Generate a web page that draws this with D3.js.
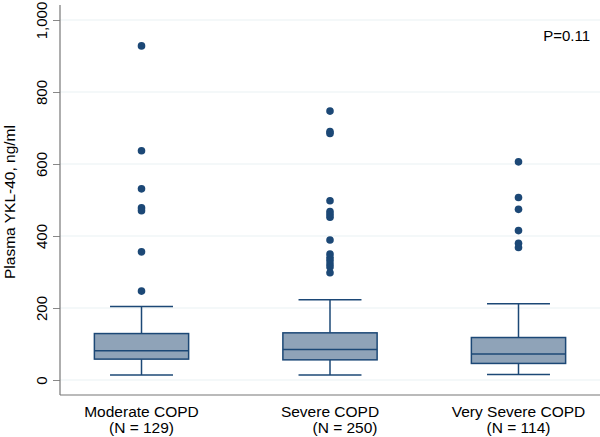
<!DOCTYPE html>
<html><head><meta charset="utf-8">
<script src="https://cdn.jsdelivr.net/npm/d3@7"></script>
<style>body{margin:0;background:#fff}text{font-family:"Liberation Sans",Arial,Helvetica,sans-serif}</style>
</head><body><svg id="c" width="600" height="437"></svg>
<script>
const categories = ["Moderate COPD", "Severe COPD", "Very Severe COPD"];
const nLabels = ["(N = 129)", "(N = 250)", "(N = 114)"];
const whiskerLow = [14, 14, 15];
const q1 = [58, 56, 46];
const median = [81, 85, 72];
const q3 = [129, 131, 118];
const whiskerHigh = [204, 223, 212];
const outliers = [
  [928, 637, 531, 478, 470, 356, 247],
  [747, 690, 685, 498, 468, 460, 452, 389, 350, 340, 332, 322, 314, 298],
  [606, 507, 474, 415, 380, 368]
];
const yTicks = [0, 200, 400, 600, 800, 1000];
const pText = "P=0.11";

const svg = d3.select("#c");
const x = d3.scalePoint().domain(categories).range([60, 600]).padding(0.4324);
const y = d3.scaleLinear().domain([0, 1000]).range([380, 20]);
const step = x.step();
const boxW = step * 0.5, capW = step * 0.334;
const dark = "#1c4876", fill = "#8fa3b8";

// gridlines
svg.append("g").selectAll("line").data(yTicks).join("line")
  .attr("x1", 60).attr("x2", 600).attr("y1", d => y(d)).attr("y2", d => y(d))
  .attr("stroke", "#eaf1f3").attr("stroke-width", 1.2);

// y axis
const yAxis = svg.append("g").attr("transform", "translate(60,0)")
  .call(d3.axisLeft(y).tickValues(yTicks).tickSize(7).tickFormat(d3.format(",")));
yAxis.select(".domain").remove();
yAxis.selectAll(".tick line").attr("stroke", "#888");
yAxis.selectAll(".tick text").attr("transform", "rotate(-90)").attr("text-anchor", "middle")
  .attr("x", 0).attr("y", -13).attr("dy", 0).attr("font-size", 15).attr("fill", "#000")
  .style("font-family", '"Liberation Sans",Arial,sans-serif');
svg.append("line").attr("x1", 60).attr("x2", 60).attr("y1", 5).attr("y2", 395).attr("stroke", "#777").attr("stroke-width", 1.2);
svg.append("line").attr("x1", 60).attr("x2", 600).attr("y1", 395).attr("y2", 395).attr("stroke", "#777").attr("stroke-width", 1.2);

// y label
svg.append("text").attr("transform", "translate(15,202) rotate(-90)").attr("text-anchor", "middle")
  .attr("font-size", 15.5).text("Plasma YKL-40, ng/ml");

// boxes
const g = svg.append("g");
categories.forEach((c, i) => {
  const cx = x(c);
  const s = g.append("g");
  s.append("line").attr("x1", cx).attr("x2", cx).attr("y1", y(q3[i])).attr("y2", y(whiskerHigh[i])).attr("stroke", dark).attr("stroke-width", 1.5);
  s.append("line").attr("x1", cx).attr("x2", cx).attr("y1", y(q1[i])).attr("y2", y(whiskerLow[i])).attr("stroke", dark).attr("stroke-width", 1.5);
  s.append("line").attr("x1", cx - capW / 2).attr("x2", cx + capW / 2).attr("y1", y(whiskerHigh[i])).attr("y2", y(whiskerHigh[i])).attr("stroke", dark).attr("stroke-width", 1.5);
  s.append("line").attr("x1", cx - capW / 2).attr("x2", cx + capW / 2).attr("y1", y(whiskerLow[i])).attr("y2", y(whiskerLow[i])).attr("stroke", dark).attr("stroke-width", 1.5);
  s.append("rect").attr("x", cx - boxW / 2).attr("width", boxW).attr("y", y(q3[i])).attr("height", y(q1[i]) - y(q3[i]))
    .attr("fill", fill).attr("stroke", dark).attr("stroke-width", 1.5);
  s.append("line").attr("x1", cx - boxW / 2).attr("x2", cx + boxW / 2).attr("y1", y(median[i])).attr("y2", y(median[i])).attr("stroke", dark).attr("stroke-width", 1.5);
  s.selectAll("circle").data(outliers[i]).join("circle").attr("cx", cx).attr("cy", d => y(d)).attr("r", 3.8).attr("fill", dark);
  // labels
  svg.append("text").attr("x", cx).attr("y", 417).attr("text-anchor", "middle").attr("font-size", 15.5).text(c);
  svg.append("text").attr("x", cx + (i === 1 ? 15 : 0)).attr("y", 433).attr("text-anchor", "middle").attr("font-size", 15.5).text(nLabels[i]);
});

svg.append("text").attr("x", 590).attr("y", 41).attr("text-anchor", "end").attr("font-size", 15).text(pText);
</script></body></html>
